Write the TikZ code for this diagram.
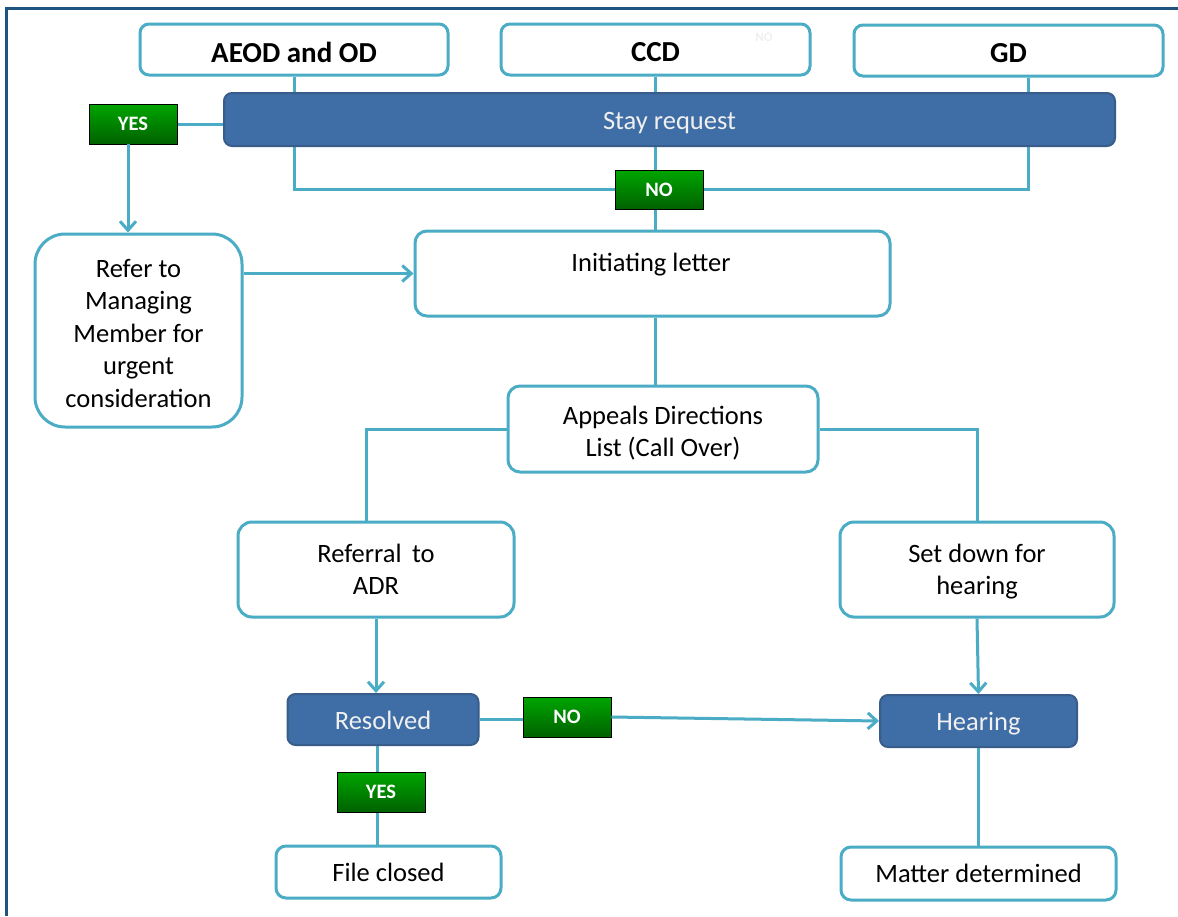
\documentclass[tikz,border=0pt]{standalone}
\usepackage{fontspec}
\setmainfont{Carlito}
\usetikzlibrary{arrows.meta,backgrounds}
\definecolor{linec}{RGB}{75,172,198}
\definecolor{bluefill}{RGB}{63,109,166}
\definecolor{blueedge}{RGB}{56,93,138}
\definecolor{greenlight}{RGB}{0,165,0}
\definecolor{greendark}{RGB}{0,98,0}
\definecolor{framec}{RGB}{31,84,128}
\definecolor{paletext}{RGB}{240,240,240}
\tikzset{
  wbox/.style={draw=linec, line width=3pt, fill=white, rounded corners=9pt, align=center, inner sep=2pt,
    font=\fontsize{26.5}{32.5}\selectfont, text=black},
  topbox/.style={wbox, font=\fontsize{29}{32}\selectfont\bfseries},
  bbox/.style={draw=blueedge, line width=2pt, fill=bluefill, rounded corners=8pt, align=center, inner sep=2pt,
    font=\fontsize{26.5}{30}\selectfont, text=paletext},
  txt/.style={align=center, inner sep=0pt, font=\fontsize{26.5}{32.5}\selectfont, text=black},
  toptxt/.style={txt, font=\fontsize{29}{32}\selectfont\bfseries},
  btxt/.style={txt, text=paletext},
  gbox/.style={draw=black, line width=0.8pt, top color=greenlight, bottom color=greendark,
    minimum width=88pt, minimum height=40pt, inner sep=0pt, text=white, font=\fontsize{20.5}{22}\selectfont\bfseries},
  conn/.style={draw=linec, line width=3pt},
  arr/.style={conn, -{Straight Barb[length=9pt, width=16pt, line width=3pt]}},
}
\newcommand\boxtext[4]{\node[#1] (#2-t) at ([yshift=#3]#2.center) {#4};}
\begin{document}
\begin{tikzpicture}[x=1pt, y=-1pt]
\useasboundingbox (0,0) rectangle (1178,916);

% top boxes
\node[topbox, minimum width=308pt, minimum height=51pt] (aeod) at (294,49.5) {};
\node[topbox, minimum width=309pt, minimum height=51pt] (ccd) at (655.5,49.5) {};
\node[topbox, minimum width=309pt, minimum height=51pt] (gd) at (1008.5,50.5) {};
\boxtext{toptxt}{aeod}{-3pt}{AEOD and OD}
\boxtext{toptxt}{ccd}{-3pt}{CCD}
\boxtext{toptxt}{gd}{-3pt}{GD}
\node[text=gray!12, font=\fontsize{13}{14}\selectfont\bfseries] (ghost) at (764,37) {NO};

\node[bbox, minimum width=891pt, minimum height=53pt] (stay) at (669.5,119.5) {};
\boxtext{btxt}{stay}{-4pt}{Stay request}
\node[gbox] (yes1) at (133,124) {YES};
\node[gbox, minimum height=39pt] (no1) at (659,189.5) {NO};

\node[wbox, rounded corners=30pt, minimum width=207pt, minimum height=193pt] (refer) at (138.5,330.5) {};
\boxtext{txt}{refer}{-3pt}{Refer to\\Managing\\Member for\\urgent\\consideration}
\node[wbox, rounded corners=12pt, minimum width=475pt, minimum height=85pt] (init) at (652.5,273.5) {};
\node[txt] (init-t) at (651,264.5) {Initiating letter};

\node[wbox, rounded corners=12pt, minimum width=310pt, minimum height=86pt] (appeals) at (663,429) {};
\boxtext{txt}{appeals}{-4pt}{Appeals Directions\\List (Call Over)}
\node[wbox, rounded corners=14pt, minimum width=276pt, minimum height=95pt] (referral) at (376,569.5) {};
\boxtext{txt}{referral}{0pt}{Referral\, to\\ADR}
\node[wbox, rounded corners=14pt, minimum width=274pt, minimum height=95pt] (setdown) at (977,569.5) {};
\boxtext{txt}{setdown}{-2pt}{Set down for\\hearing}

\node[bbox, minimum width=191pt, minimum height=51pt] (resolved) at (383,719.5) {};
\boxtext{btxt}{resolved}{-1pt}{Resolved}
\node[gbox] (no2) at (567,717) {NO};
\node[bbox, minimum width=197pt, minimum height=52pt] (hearing) at (978.5,721) {};
\boxtext{btxt}{hearing}{-2.5pt}{Hearing}
\node[gbox] (yes2) at (381,792) {YES};

\node[wbox, rounded corners=10pt, minimum width=225pt, minimum height=52pt] (fileclosed) at (388.5,872) {File closed};
\node[wbox, rounded corners=10pt, minimum width=275pt, minimum height=53pt] (matter) at (978.5,873.5) {Matter determined};

\coordinate (xr) at (377,0);
\coordinate (xl) at (128,0);

\begin{scope}[on background layer]
  \fill[white] (0,0) rectangle (1178,916);
  \draw[framec, line width=3pt] (6.5,916) -- (6.5,8.5) -- (1178,8.5);
  \draw[conn] (aeod.south) |- (no1.west);
  \draw[conn] ([xshift=19.5pt]gd.south) |- (no1.east);
  \draw[conn] (ccd.south) -- (ccd.south |- no1.north);
  \draw[conn] (ccd.south |- no1.south) -- (ccd.south |- init.north);
  \draw[conn] (yes1.east) -- (yes1.east -| stay.west);
  \draw[conn] ([xshift=2.5pt]init.south) -- ([xshift=2.5pt]init.south |- appeals.north);
  \draw[conn] (appeals.west) -| ([xshift=-10pt]referral.north);
  \draw[conn] (appeals.east) -| (setdown.north);
  \draw[conn] (resolved.east) -- (resolved.east -| no2.west);
  \draw[conn] (hearing.south) -- (matter.north);
  \draw[conn] (resolved.south -| xr) -- (yes2.north -| xr);
  \draw[conn] (yes2.south -| xr) -- (fileclosed.north -| xr);
\end{scope}
\draw[arr] (yes1.south -| xl) -- (refer.north -| xl);
\draw[arr] (refer.east |- init.west) -- (init.west);
\draw[arr] (referral.south) -- (referral.south |- resolved.north);
\draw[arr] (no2.east) -- (hearing.west);
\draw[arr] (setdown.south) -- (hearing.north);
\end{tikzpicture}
\end{document}
